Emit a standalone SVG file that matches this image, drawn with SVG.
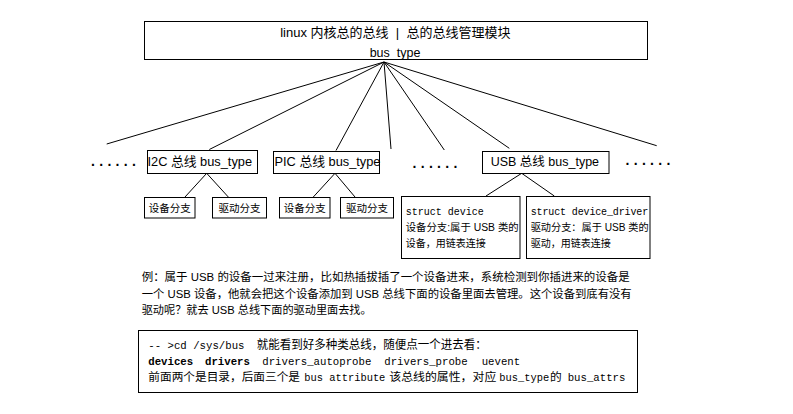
<svg xmlns="http://www.w3.org/2000/svg" width="793" height="414" viewBox="0 0 793 414">
<style>
.box{fill:#fff;stroke:#000;stroke-width:1}
.ln{stroke:#000;stroke-width:1;fill:none}
.t{font-family:"Liberation Sans","Noto Sans CJK SC",sans-serif;fill:#000}
.m{font-family:"Liberation Mono","Noto Sans CJK SC",monospace;fill:#000}
.dots{font-family:"Liberation Sans",sans-serif;font-size:14px;font-weight:bold;letter-spacing:4.3px;fill:#000}
</style>
<rect width="793" height="414" fill="#fff"/>
<g id="connectors">
<line class="ln" x1="384" y1="62" x2="106.7" y2="144"/>
<line class="ln" x1="384" y1="62" x2="209.3" y2="149.5"/>
<line class="ln" x1="384" y1="62" x2="336" y2="150.5"/>
<line class="ln" x1="384" y1="62" x2="391" y2="149"/>
<line class="ln" x1="384" y1="62" x2="444.3" y2="150"/>
<line class="ln" x1="384" y1="62" x2="509.3" y2="148.3"/>
<line class="ln" x1="384" y1="62" x2="656.7" y2="145.7"/>
<line class="ln" x1="206.7" y1="173.3" x2="185" y2="197"/>
<line class="ln" x1="206.7" y1="173.3" x2="228.3" y2="197"/>
<line class="ln" x1="335" y1="173.3" x2="313.3" y2="197"/>
<line class="ln" x1="335" y1="173.3" x2="355" y2="197"/>
<line class="ln" x1="521.7" y1="173.3" x2="486" y2="196"/>
<line class="ln" x1="521.7" y1="173.3" x2="554.3" y2="196"/>
</g>
<g id="root">
<rect class="box" x="144.5" y="21.5" width="503" height="38"/>
<text class="t" x="395.3" y="36.7" font-size="13" text-anchor="middle" xml:space="preserve">linux 内核总的总线  |  总的总线管理模块</text>
<text class="t" x="395" y="56.5" font-size="12.5" text-anchor="middle">bus_type</text>
</g>
<g id="dots-left"><text class="dots" x="91" y="166">......</text></g>
<g id="dots-mid"><text class="dots" x="412.5" y="168">......</text></g>
<g id="dots-right"><text class="dots" x="625.5" y="165">......</text></g>
<g id="i2c">
<rect class="box" x="147.5" y="150.5" width="110" height="23"/>
<text class="t" x="147.5" y="165.5" font-size="12.8">I2C 总线 bus_type</text>
</g>
<g id="pic">
<rect class="box" x="273.5" y="151.5" width="106" height="22"/>
<text class="t" x="274.5" y="166" font-size="12.8">PIC 总线 bus_type</text>
</g>
<g id="usb">
<rect class="box" x="482.5" y="151.5" width="126.5" height="22"/>
<text class="t" x="490.7" y="166" font-size="12.5">USB 总线 bus_type</text>
</g>
<g id="i2c-dev">
<rect class="box" x="144.5" y="197.5" width="50.5" height="20.5"/>
<text class="t" x="169.8" y="211.5" font-size="10.5" text-anchor="middle">设备分支</text>
</g>
<g id="i2c-drv">
<rect class="box" x="212.5" y="197.5" width="54" height="20.5"/>
<text class="t" x="239.5" y="211.5" font-size="10.5" text-anchor="middle">驱动分支</text>
</g>
<g id="pic-dev">
<rect class="box" x="279.5" y="197.5" width="50.5" height="20.5"/>
<text class="t" x="304.8" y="211.5" font-size="10.5" text-anchor="middle">设备分支</text>
</g>
<g id="pic-drv">
<rect class="box" x="340.5" y="197.5" width="53" height="20.5"/>
<text class="t" x="367" y="211.5" font-size="10.5" text-anchor="middle">驱动分支</text>
</g>
<g id="usb-dev">
<rect class="box" x="401.5" y="196.5" width="118.5" height="62"/>
<text class="m" x="405.7" y="214.5" font-size="10">struct device</text>
<text class="t" x="405.7" y="231" font-size="10" textLength="113" lengthAdjust="spacingAndGlyphs">设备分支:属于 USB 类的</text>
<text class="t" x="405.7" y="247" font-size="10">设备，用链表连接</text>
</g>
<g id="usb-drv">
<rect class="box" x="526.5" y="196.5" width="123.5" height="62"/>
<text class="m" x="530.7" y="214.5" font-size="10" textLength="117.5">struct device_driver</text>
<text class="t" x="530.7" y="231" font-size="10" textLength="118" lengthAdjust="spacingAndGlyphs">驱动分支：属于 USB 类的</text>
<text class="t" x="530.7" y="247" font-size="10">驱动，用链表连接</text>
</g>
<g id="note">
<text class="t" x="141.7" y="281" font-size="11.7" textLength="488" lengthAdjust="spacingAndGlyphs">例：属于 USB 的设备一过来注册，比如热插拔插了一个设备进来，系统检测到你插进来的设备是</text>
<text class="t" x="141.7" y="297.5" font-size="11.7" textLength="490" lengthAdjust="spacingAndGlyphs">一个 USB 设备，他就会把这个设备添加到 USB 总线下面的设备里面去管理。这个设备到底有没有</text>
<text class="t" x="141.7" y="313.5" font-size="11.7" textLength="230" lengthAdjust="spacingAndGlyphs">驱动呢？就去 USB 总线下面的驱动里面去找。</text>
</g>
<g id="code">
<rect class="box" x="138.5" y="330.5" width="499" height="62"/>
<text class="m" x="148.3" y="348.5" font-size="10.7">-- &gt;cd /sys/bus</text>
<text class="t" x="256.7" y="348.5" font-size="12" textLength="230" lengthAdjust="spacingAndGlyphs">就能看到好多种类总线，随便点一个进去看：</text>
<text class="m" x="148.3" y="364.5" font-size="10.7" font-weight="bold">devices</text>
<text class="m" x="205" y="364.5" font-size="10.7" font-weight="bold">drivers</text>
<text class="m" x="262.3" y="364.5" font-size="10.7">drivers_autoprobe</text>
<text class="m" x="384.3" y="364.5" font-size="10.7">drivers_probe</text>
<text class="m" x="481.7" y="364.5" font-size="10.7">uevent</text>
<text class="t" x="148.3" y="380.5" font-size="11.7" textLength="151.7" lengthAdjust="spacingAndGlyphs">前面两个是目录，后面三个是</text>
<text class="m" x="304.3" y="380.5" font-size="10.4">bus attribute</text>
<text class="t" x="389.3" y="380.5" font-size="11.7" textLength="107" lengthAdjust="spacingAndGlyphs">该总线的属性，对应</text>
<text class="m" x="499.3" y="380.5" font-size="10.4">bus_type</text>
<text class="t" x="550" y="380.5" font-size="11.7">的</text>
<text class="m" x="567.7" y="380.5" font-size="10.7">bus_attrs</text>
</g>
</svg>
